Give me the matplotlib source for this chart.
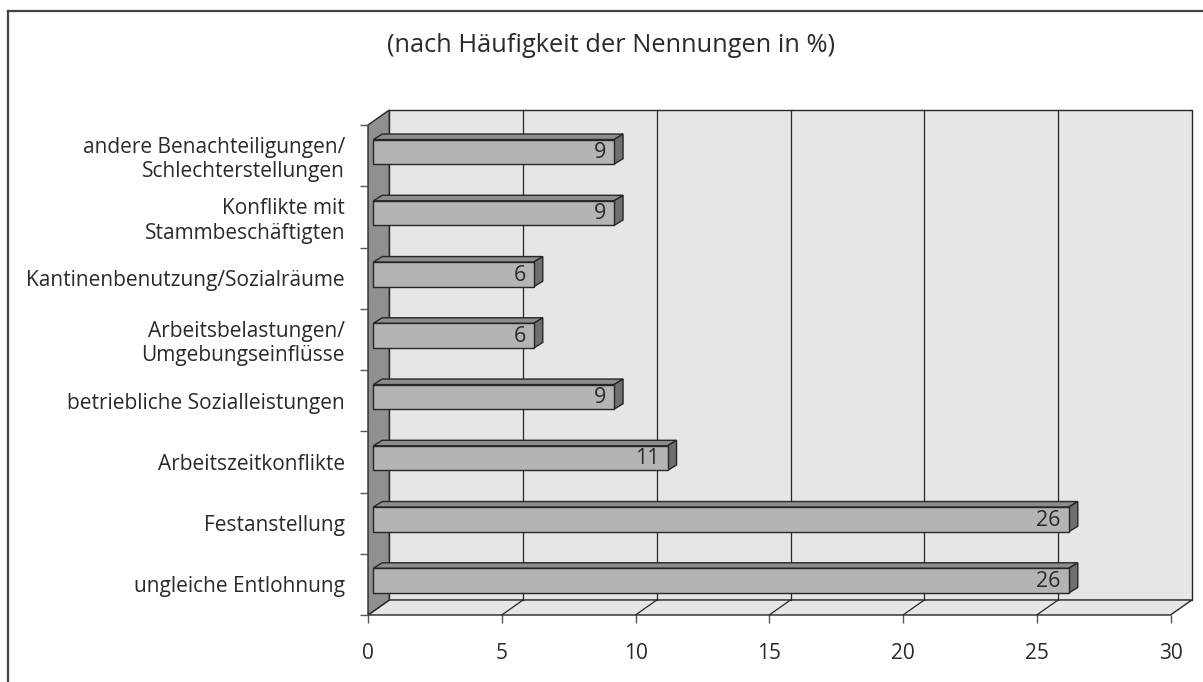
import numpy as np
import matplotlib
matplotlib.use("Agg")
import matplotlib.pyplot as plt
from matplotlib.patches import Polygon
from matplotlib.lines import Line2D

plt.rcParams['font.family'] = ['Open Sans', 'DejaVu Sans']

# Daten (von unten nach oben)
kategorien = [
    "ungleiche Entlohnung",
    "Festanstellung",
    "Arbeitszeitkonflikte",
    "betriebliche Sozialleistungen",
    "Arbeitsbelastungen/\nUmgebungseinflüsse",
    "Kantinenbenutzung/Sozialräume",
    "Konflikte mit\nStammbeschäftigten",
    "andere Benachteiligungen/\nSchlechterstellungen",
]
werte = [26, 26, 11, 9, 6, 6, 9, 9]
x_ticks = [0, 5, 10, 15, 20, 25, 30]
titel = "(nach Häufigkeit der Nennungen in %)"

# Pseudo-3D Geometrie in Dateneinheiten
DX, DY = 0.796, 0.245        # Tiefe der Rückwand
BX0, BY0 = 0.198, 0.061      # Versatz der Balkenfront
BDX, BDY = 0.336, 0.09       # Balkentiefe
BH = 0.2015                  # halbe Balkenhöhe

wand = '#e5e6e8'
seite = '#909092'
front = '#b3b4b6'
oben = '#8d8d8f'
rechts = '#6f6f71'
kante = '#262626'
textfarbe = '#2a2a2a'
fs = 15

fig = plt.figure(figsize=(12.03, 6.82), dpi=100)
ax = fig.add_axes([368 / 1203, 67 / 682, 802.5 / 1203, 490 / 682])
ax.set_xlim(0, 30)
ax.set_ylim(0, 8)
for s in ax.spines.values():
    s.set_visible(False)
ax.patch.set_visible(False)

xmax, ymax = 30, 8

def poly(pts, fc, z, lw=1.0):
    p = Polygon(pts, closed=True, facecolor=fc, edgecolor=kante, lw=lw,
                zorder=z, clip_on=False, joinstyle='miter')
    ax.add_patch(p)

# Rückwand
poly([(DX, DY), (xmax + DX, DY), (xmax + DX, ymax + DY), (DX, ymax + DY)], wand, 1)
# Boden
poly([(0, 0), (xmax, 0), (xmax + DX, DY), (DX, DY)], wand, 1)
# linke Seitenwand
poly([(0, 0), (DX, DY), (DX, ymax + DY), (0, ymax)], seite, 1.5)

# Gitterlinien auf Rückwand und Boden
for xt in x_ticks[1:-1]:
    ax.plot([xt + DX, xt + DX], [DY, ymax + DY], color=kante, lw=0.9,
            zorder=2, clip_on=False)
    ax.plot([xt, xt + DX], [0, DY], color=kante, lw=0.9, zorder=2,
            clip_on=False)

# Balken
for i, v in enumerate(werte):
    c = i + 0.5
    x0 = BX0
    x1 = BX0 + v
    y0 = c - BH + BY0
    y1 = c + BH + BY0
    poly([(x0, y1), (x1, y1), (x1 + BDX, y1 + BDY), (x0 + BDX, y1 + BDY)], oben, 5)
    poly([(x1, y0), (x1 + BDX, y0 + BDY), (x1 + BDX, y1 + BDY), (x1, y1)], rechts, 5)
    poly([(x0, y0), (x1, y0), (x1, y1), (x0, y1)], front, 6)
    ax.text(x1 - 0.3, c + BY0 - 0.01, str(v), ha='right', va='center',
            fontsize=15.5, color=textfarbe, zorder=7)

# Achsen / Ticks
ax.set_xticks(x_ticks)
ax.set_xticklabels([str(t) for t in x_ticks])
ax.set_yticks(np.arange(0, 9))
ax.set_yticklabels([])
ax.set_yticks(np.arange(len(kategorien)) + 0.5, minor=True)
ax.set_yticklabels(kategorien, minor=True, multialignment='right')
ax.tick_params(axis='x', length=5.8, width=1, color='#555555', pad=14.5,
               labelsize=fs, labelcolor=textfarbe)
ax.tick_params(axis='y', which='major', length=5.8, width=1, color='#555555')
ax.tick_params(axis='y', which='minor', length=0, pad=16.5, labelsize=fs,
               labelcolor=textfarbe)

# Titel
fig.text(611 / 1203, 1 - 45 / 682, titel, ha='center', va='center',
         fontsize=18.3, color=textfarbe)

# Rahmen (oben und links)
fig.add_artist(Line2D([8 / 1203, 1], [1 - 11 / 682, 1 - 11 / 682],
                      color='#444444', lw=1.6))
fig.add_artist(Line2D([8 / 1203, 8 / 1203], [0, 1 - 11 / 682],
                      color='#444444', lw=1.6))

fig.savefig("out.png", dpi=100)
